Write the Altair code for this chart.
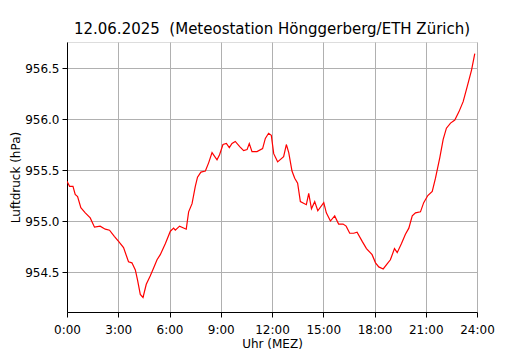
import altair as alt
import pandas as pd

hours = [0.0, 0.15, 0.35, 0.48, 0.62, 0.81, 1.07, 1.36, 1.61, 1.94, 2.24, 2.49, 2.77, 3.02,
         3.31, 3.60, 3.80, 4.00, 4.13, 4.29, 4.45, 4.64, 4.87, 5.07, 5.27, 5.46, 5.76, 6.05,
         6.24, 6.34, 6.59, 6.98, 7.12, 7.32, 7.51, 7.64, 7.84, 8.10, 8.29, 8.49, 8.78, 8.93,
         9.13, 9.33, 9.50, 9.66, 9.85, 10.11, 10.34, 10.54, 10.67, 10.83, 11.12, 11.45, 11.61,
         11.80, 11.96, 12.10, 12.33, 12.68, 12.84, 12.98, 13.17, 13.33, 13.50, 13.66, 14.01,
         14.15, 14.31, 14.50, 14.68, 15.03, 15.18, 15.42, 15.67, 15.90, 16.16, 16.34, 16.55,
         16.78, 16.98, 17.28, 17.53, 17.86, 18.06, 18.25, 18.51, 18.74, 18.93, 19.17, 19.33,
         19.58, 19.81, 20.01, 20.21, 20.40, 20.69, 20.88, 21.12, 21.38, 21.57, 21.82, 22.02,
         22.21, 22.45, 22.70, 22.94, 23.19, 23.43, 23.68, 23.87]

pressure = [955.39, 955.34, 955.34, 955.26, 955.24, 955.13, 955.08, 955.03, 954.94, 954.95,
            954.92, 954.91, 954.85, 954.80, 954.74, 954.60, 954.59, 954.52, 954.42, 954.28,
            954.25, 954.38, 954.46, 954.54, 954.62, 954.67, 954.78, 954.90, 954.93, 954.91,
            954.95, 954.92, 955.09, 955.17, 955.34, 955.43, 955.48, 955.49, 955.57, 955.67,
            955.60, 955.65, 955.75, 955.76, 955.72, 955.76, 955.78, 955.73, 955.69, 955.70,
            955.76, 955.68, 955.68, 955.71, 955.81, 955.86, 955.84, 955.66, 955.58, 955.63,
            955.75, 955.67, 955.49, 955.42, 955.37, 955.19, 955.16, 955.27, 955.12, 955.19,
            955.10, 955.18, 955.08, 955.00, 955.05, 954.97, 954.97, 954.95, 954.88, 954.88,
            954.89, 954.80, 954.73, 954.67, 954.59, 954.55, 954.53, 954.58, 954.62, 954.73,
            954.69, 954.78, 954.87, 954.93, 955.05, 955.08, 955.09, 955.18, 955.25, 955.29,
            955.42, 955.62, 955.80, 955.91, 955.96, 955.99, 956.07, 956.17, 956.32, 956.48,
            956.64]

x_ticks = [0, 3, 6, 9, 12, 15, 18, 21, 24]
y_ticks = [954.5, 955.0, 955.5, 956.0, 956.5]

df = pd.DataFrame({"h": hours, "p": pressure})

font = "DejaVu Sans"

chart = alt.Chart(df).mark_line(color="#ff0000", strokeWidth=1.2, clip=True).encode(
    x=alt.X("h:Q", scale=alt.Scale(domain=[0, 24], nice=False, zero=False),
            axis=alt.Axis(values=x_ticks, labelExpr="datum.value + ':00'", title="Uhr (MEZ)",
                          grid=True, gridColor="#b0b0b0", gridWidth=1,
                          domainColor="black", tickColor="black", tickSize=5,
                          labelPadding=7, labelFontSize=12, titleFontSize=12,
                          labelOverlap=False, labelFlush=False,
                          labelColor="black", titleColor="black", titleFontWeight="normal",
                          labelFont=font, titleFont=font, titlePadding=3)),
    y=alt.Y("p:Q", scale=alt.Scale(domain=[954.108, 956.755], nice=False, zero=False),
            axis=alt.Axis(values=y_ticks, format=".1f", title="Luftdruck (hPa)",
                          grid=True, gridColor="#b0b0b0", gridWidth=1,
                          domainColor="black", tickColor="black", tickSize=5,
                          labelPadding=3, labelFontSize=12, titleFontSize=12,
                          labelOverlap=False, labelFlush=False,
                          labelColor="black", titleColor="black", titleFontWeight="normal",
                          labelFont=font, titleFont=font, titlePadding=2)),
).properties(
    width=410,
    height=270,
    title=alt.TitleParams("12.06.2025\u00a0 (Meteostation Hönggerberg/ETH Zürich)",
                          font=font, fontSize=15, fontWeight="normal", color="black",
                          anchor="middle", offset=5),
    autosize=alt.AutoSizeParams(type="none"),
    padding={"left": 59, "top": 34, "right": 40, "bottom": 39},
).configure_view(stroke="black", strokeWidth=1).configure(background="white")

chart.save("out.html", embed_options={"renderer": "svg", "actions": False})
